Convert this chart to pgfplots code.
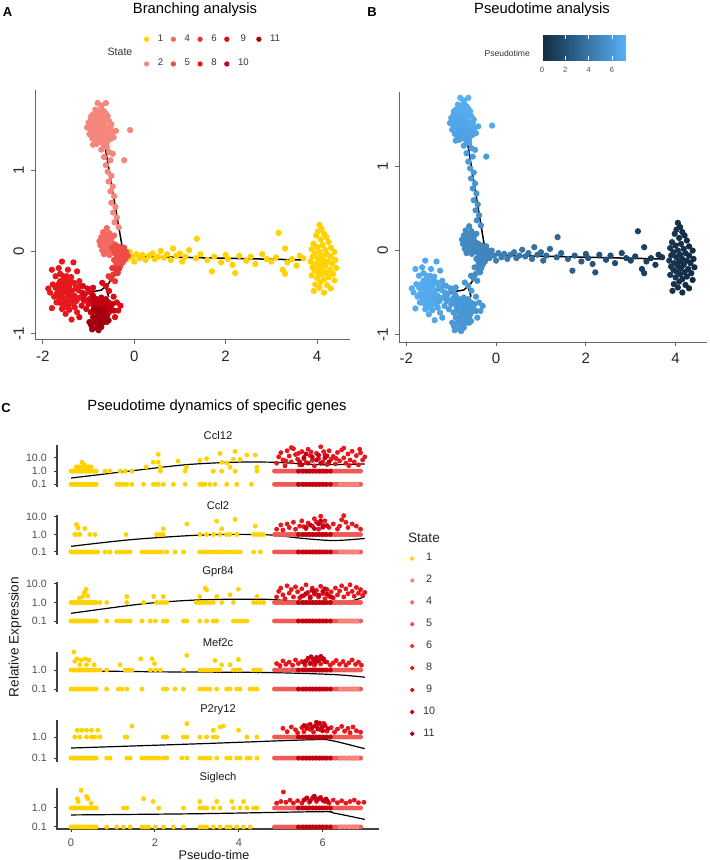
\documentclass[border=0pt]{standalone}
\usepackage{pgfplots}
\usepackage{pgfplotstable}
\pgfplotsset{compat=1.18}
\usepackage{fontspec}
\setmainfont{Liberation Sans}

\definecolor{s1}{HTML}{FFD200}
\definecolor{s2}{HTML}{F6867C}
\definecolor{s4}{HTML}{F26A62}
\definecolor{s5}{HTML}{EE4C46}
\definecolor{s6}{HTML}{EA3530}
\definecolor{s8}{HTML}{E6181D}
\definecolor{s9}{HTML}{D80C16}
\definecolor{s10}{HTML}{C20012}
\definecolor{s11}{HTML}{A2000E}
\definecolor{rowred}{HTML}{F05A55}
\definecolor{axgray}{HTML}{4D4D4D}

\pgfplotsset{
  /pgf/number format/assume math mode=true,
  cell/.style={only marks, mark=*, mark size=1.35pt},
  pdot/.style={only marks, mark=*, mark size=1pt},
  traj/.style={black, line width=0.75pt, mark=none},
  axl/.style={black!75, line width=0.55pt, mark=none},
  tsne/.style={scale only axis, height=125pt,
    xmin=-2.17, xmax=4.72,
    axis x line*=bottom, axis y line*=left,
    axis line style={-, black!60, line width=0.5pt},
    tick align=outside, major tick length=2pt,
    tick style={black!60, line width=0.5pt},
    xtick={-2,0,2,4}, ytick={-1,0,1},
    tick label style={font=\fontsize{7.5}{8}\selectfont, text=black!85},
    yticklabel style={rotate=90, anchor=south},
  },
  facet/.style={scale only axis, width=161pt,
    xmin=-0.334, xmax=7.34, clip=false,
    axis x line*=bottom, axis y line*=left,
    axis line style={-, black!80, line width=0.5pt},
    tick align=outside, major tick length=1.6pt,
    tick style={black!80, line width=0.5pt},
    tick label style={font=\fontsize{5.3}{6}\selectfont, text=axgray},
    title style={font=\fontsize{5.6}{6}\selectfont, text=black!90, yshift=-7pt},
  },
  nox/.style={x axis line style={draw=none}, xtick=\empty},
  ydot/.style={pdot, s1},
  rdot/.style={pdot},
  lgimg/.style={legend image code/.code={\draw[mark repeat=2,mark phase=2,##1] plot coordinates {(0pt,0pt) (2pt,0pt) (4pt,0pt)};}},
}

% cells: x y pseudotime
\pgfplotstableread{
x y t
4.05 0.33 0.3
4.10 0.28 0.2
4.02 0.25 0.4
4.15 0.22 0.1
3.98 0.20 0.5
4.20 0.18 0.2
4.08 0.15 0.3
4.25 0.12 0.1
3.92 0.10 0.6
4.12 0.08 0.2
4.00 0.06 0.4
4.30 0.05 0.1
3.88 0.03 0.6
4.18 0.02 0.3
4.05 0.00 0.3
4.38 0.00 0.1
3.95 -0.02 0.5
4.22 -0.03 0.2
4.10 -0.05 0.3
3.90 -0.06 0.6
4.30 -0.06 0.1
4.02 -0.08 0.4
4.15 -0.10 0.2
4.40 -0.10 0.0
3.86 -0.12 0.7
4.25 -0.12 0.1
4.08 -0.13 0.3
3.97 -0.15 0.5
4.33 -0.15 0.1
4.18 -0.17 0.2
4.05 -0.18 0.3
3.90 -0.19 0.6
4.42 -0.20 0.0
4.12 -0.21 0.2
4.28 -0.22 0.1
3.95 -0.23 0.5
4.02 -0.25 0.4
4.20 -0.26 0.2
4.35 -0.27 0.1
4.10 -0.28 0.3
3.88 -0.29 0.6
4.25 -0.31 0.1
4.00 -0.32 0.4
4.15 -0.34 0.2
4.38 -0.35 0.0
4.08 -0.37 0.3
3.96 -0.40 0.5
4.22 -0.41 0.2
4.05 -0.44 0.3
4.30 -0.45 0.1
3.93 -0.48 0.5
4.15 -0.50 0.2
-0.22 -0.02 4.83
-0.15 -0.09 4.76
-0.10 0.00 4.70
-0.05 -0.06 4.65
0.00 -0.12 4.60
0.05 -0.03 4.54
0.12 -0.08 4.46
0.18 -0.04 4.40
0.25 -0.10 4.33
0.32 -0.05 4.25
0.40 -0.02 4.16
0.45 -0.09 4.11
0.52 -0.06 4.03
0.58 0.01 3.97
0.65 -0.07 3.89
0.72 -0.03 3.82
0.80 -0.10 3.73
0.85 0.04 3.68
0.92 -0.05 3.60
1.00 -0.02 3.52
1.05 -0.12 3.46
1.12 -0.06 3.39
1.20 0.02 3.30
1.37 0.16 3.12
1.35 -0.08 3.14
1.45 -0.03 3.03
1.60 -0.10 2.87
1.70 -0.24 2.76
1.75 -0.06 2.71
1.90 -0.13 2.54
2.00 -0.04 2.44
2.05 -0.09 2.38
2.15 -0.16 2.27
2.21 -0.26 2.20
2.30 -0.05 2.11
2.45 -0.11 1.95
2.55 -0.06 1.84
2.65 -0.15 1.73
2.80 -0.03 1.57
2.90 -0.09 1.46
3.00 -0.12 1.36
3.10 -0.07 1.25
3.16 0.23 1.19
3.25 -0.22 1.09
3.30 0.04 1.03
3.30 -0.27 1.03
3.35 -0.13 0.98
3.45 -0.09 0.87
3.55 -0.17 0.76
3.62 -0.05 0.69
3.70 -0.08 0.60
}\stOne

\pgfplotstableread{
x y t
-0.80 1.82 7.1
-0.62 1.82 7.2
-0.72 1.76 7.0
-0.85 1.74 6.9
-0.66 1.72 7.0
-0.78 1.70 6.9
-0.90 1.68 6.8
-0.70 1.67 6.9
-0.58 1.66 6.9
-0.82 1.64 6.8
-0.95 1.62 6.7
-0.74 1.62 6.8
-0.64 1.61 6.8
-0.88 1.59 6.7
-1.00 1.58 6.6
-0.78 1.58 6.7
-0.68 1.57 6.7
-0.55 1.60 6.8
-0.92 1.55 6.6
-0.84 1.54 6.6
-0.72 1.53 6.6
-0.60 1.53 6.7
-1.03 1.52 6.5
-0.96 1.50 6.5
-0.80 1.50 6.5
-0.66 1.49 6.6
-0.52 1.52 6.7
-0.88 1.47 6.5
-0.75 1.46 6.5
-0.62 1.45 6.5
-0.98 1.44 6.4
-0.84 1.42 6.4
-0.70 1.42 6.4
-0.56 1.43 6.5
-0.48 1.46 6.6
-0.92 1.39 6.4
-0.78 1.38 6.3
-0.64 1.38 6.4
-0.52 1.38 6.4
-0.86 1.35 6.3
-0.72 1.34 6.3
-0.60 1.33 6.3
-0.90 1.31 6.3
-0.45 1.40 6.4
-0.40 1.48 6.6
-0.09 1.49 6.8
-0.76 1.61 6.8
-0.86 1.60 6.7
-0.94 1.66 6.8
-0.74 1.70 6.9
-0.68 1.64 6.8
-0.80 1.56 6.6
-0.90 1.50 6.5
-0.70 1.50 6.5
-0.58 1.48 6.6
-0.82 1.46 6.5
-0.66 1.43 6.4
-0.94 1.46 6.5
-0.76 1.41 6.4
-0.58 1.40 6.4
-0.82 1.32 6.3
-0.66 1.30 6.3
-0.72 1.79 7.0
-0.86 1.69 6.8
-0.62 1.69 6.9
-0.50 1.56 6.7
-0.72 1.25 6.2
-0.55 1.22 6.1
-0.66 1.16 6.1
-0.52 1.12 6.0
-0.62 1.06 6.0
-0.58 0.98 5.9
-0.50 0.93 5.8
-0.56 0.86 5.8
-0.47 0.80 5.7
-0.52 0.74 5.6
-0.44 0.68 5.6
-0.50 0.60 5.5
-0.41 0.55 5.4
-0.46 0.48 5.4
-0.38 0.42 5.3
-0.43 0.36 5.2
-0.34 0.30 5.2
-0.47 1.20 6.1
-0.60 1.28 6.2
-0.22 1.12 6.0
}\stTwo

\pgfplotstableread{
x y t
-0.60 0.29 5.1
-0.68 0.24 5.1
-0.55 0.23 5.0
-0.72 0.18 5.2
-0.62 0.17 5.1
-0.50 0.16 5.0
-0.66 0.12 5.1
-0.56 0.11 5.0
-0.74 0.08 5.2
-0.46 0.10 5.0
-0.62 0.06 5.1
-0.52 0.05 5.0
-0.70 0.02 5.1
-0.58 0.00 5.0
-0.48 0.01 4.9
-0.66 -0.03 5.1
-0.54 -0.04 5.0
-0.76 0.13 5.2
-0.58 0.20 5.1
-0.44 0.20 5.0
-0.64 0.20 5.1
-0.70 0.08 5.1
-0.60 0.12 5.0
-0.54 0.17 5.0
-0.64 0.02 5.1
}\stFour

\pgfplotstableread{
x y t
-0.40 0.08 4.9
-0.32 0.06 4.9
-0.22 0.05 4.8
-0.45 0.03 4.9
-0.36 0.02 4.9
-0.28 0.01 4.8
-0.18 0.00 4.8
-0.42 -0.02 4.9
-0.33 -0.03 4.9
-0.24 -0.04 4.8
-0.14 -0.05 4.8
-0.38 -0.07 4.9
-0.29 -0.08 4.9
-0.20 -0.09 4.8
-0.44 -0.10 5.0
-0.34 -0.12 4.9
-0.25 -0.13 4.9
-0.39 -0.15 5.0
-0.30 -0.17 5.0
-0.35 -0.19 5.0
-0.27 -0.04 4.8
-0.48 0.05 4.9
-0.37 0.04 4.9
-0.31 -0.01 4.9
-0.40 -0.11 4.9
-0.26 -0.10 4.8
-0.32 -0.14 4.9
-0.22 -0.02 4.8
}\stFive

\pgfplotstableread{
x y t
-0.40 -0.22 5.1
-0.36 -0.26 5.2
-0.46 -0.28 5.2
-0.50 -0.33 5.3
-0.42 -0.36 5.3
-0.56 -0.30 5.3
-0.33 -0.21 5.1
-0.48 -0.20 5.1
}\stSix

\pgfplotstableread{
x y t
-1.58 -0.12 6.6
-1.33 -0.13 6.5
-1.80 -0.22 6.9
-1.65 -0.20 6.8
-1.45 -0.22 6.7
-1.25 -0.24 6.5
-1.72 -0.30 6.8
-1.55 -0.30 6.7
-1.38 -0.31 6.6
-1.62 -0.36 6.8
-1.48 -0.36 6.7
-1.32 -0.38 6.6
-1.20 -0.36 6.5
-1.78 -0.40 6.9
-1.56 -0.42 6.8
-1.42 -0.42 6.7
-1.88 -0.45 7.0
-1.68 -0.46 6.9
-1.50 -0.47 6.8
-1.36 -0.48 6.7
-1.22 -0.47 6.6
-1.60 -0.51 6.8
-1.45 -0.53 6.7
-1.30 -0.54 6.6
-1.75 -0.55 6.9
-1.55 -0.57 6.8
-1.40 -0.59 6.7
-1.18 -0.56 6.5
-1.65 -0.62 6.8
-1.48 -0.63 6.7
-1.33 -0.64 6.6
-1.80 -0.69 6.9
-1.58 -0.70 6.8
-1.42 -0.71 6.7
-1.50 -0.76 6.7
-1.37 -0.83 6.6
-1.25 -0.74 6.5
-1.10 -0.60 6.4
-1.52 -0.40 6.8
-1.70 -0.52 6.9
-1.28 -0.43 6.6
-1.62 -0.27 6.7
-1.72 -0.44 6.9
-1.60 -0.44 6.8
-1.46 -0.46 6.7
-1.54 -0.50 6.8
-1.40 -0.52 6.7
-1.64 -0.56 6.8
-1.50 -0.60 6.7
-1.36 -0.58 6.6
-1.58 -0.64 6.8
-1.70 -0.62 6.8
-1.44 -0.66 6.7
-1.26 -0.60 6.5
-1.66 -0.40 6.8
-1.48 -0.30 6.7
-1.40 -0.36 6.6
-1.56 -0.36 6.7
-1.84 -0.50 6.9
-1.30 -0.68 6.6
-1.52 -0.68 6.7
-1.20 -0.42 6.5
}\stEight

\pgfplotstableread{
x y t
-1.12 -0.42 6.2
-1.02 -0.45 6.1
-0.95 -0.50 6.0
-1.08 -0.52 6.1
-0.98 -0.58 6.0
-1.15 -0.66 6.2
-1.05 -0.70 6.1
-0.90 -0.44 6.0
-0.70 -0.38 5.9
-0.62 -0.42 5.9
-0.55 -0.48 5.8
-0.45 -0.55 5.8
-0.38 -0.62 5.8
-0.35 -0.72 5.9
-0.42 -0.80 5.9
-0.30 -0.66 5.8
-1.20 -0.80 6.3
-0.60 -0.86 6.0
-1.14 -0.50 6.2
-1.00 -0.64 6.0
-0.92 -0.52 6.0
-1.10 -0.58 6.1
}\stNine

\pgfplotstableread{
x y t
-0.92 -0.60 5.9
-0.82 -0.58 5.8
-0.72 -0.56 5.8
-0.62 -0.58 5.7
-0.88 -0.66 5.9
-0.78 -0.66 5.8
-0.68 -0.64 5.7
-0.58 -0.66 5.7
-0.48 -0.64 5.7
-0.95 -0.74 5.9
-0.85 -0.73 5.8
-0.74 -0.72 5.8
-0.64 -0.74 5.7
-0.54 -0.73 5.7
-0.45 -0.72 5.6
-0.90 -0.54 5.9
-0.76 -0.60 5.8
-0.66 -0.60 5.7
-0.56 -0.62 5.7
-0.84 -0.62 5.8
-0.72 -0.68 5.8
-0.62 -0.69 5.7
-0.52 -0.68 5.7
-0.80 -0.76 5.8
-0.58 -0.76 5.7
}\stTen

\pgfplotstableread{
x y t
-0.90 -0.80 5.9
-0.80 -0.79 5.8
-0.70 -0.81 5.8
-0.60 -0.79 5.7
-0.86 -0.86 5.8
-0.76 -0.88 5.8
-0.66 -0.86 5.7
-0.82 -0.93 5.8
-0.92 -0.95 5.9
-0.72 -0.92 5.8
-0.98 -0.86 5.9
-0.78 -0.72 5.8
-0.68 -0.70 5.7
-0.88 -0.70 5.8
-0.84 -0.82 5.8
-0.74 -0.84 5.8
-0.64 -0.82 5.7
-0.94 -0.90 5.9
-0.78 -0.96 5.8
-0.68 -0.76 5.7
-0.56 -0.84 5.7
}\stEleven

% rows of cells at 0.1 (no expression) and 1.0 in panel C
\pgfplotstableread{
x z o
0.00 0.1 1
0.04 0.1 1
0.08 0.1 1
0.12 0.1 1
0.16 0.1 1
0.20 0.1 1
0.24 0.1 1
0.28 0.1 1
0.32 0.1 1
0.36 0.1 1
0.40 0.1 1
0.44 0.1 1
0.48 0.1 1
0.52 0.1 1
0.56 0.1 1
0.60 0.1 1
}\ydense

\pgfplotstableread{
x z o
4.85 0.1 1
4.90 0.1 1
4.95 0.1 1
5.00 0.1 1
5.05 0.1 1
5.10 0.1 1
5.15 0.1 1
5.20 0.1 1
5.25 0.1 1
5.30 0.1 1
5.35 0.1 1
5.40 0.1 1
5.45 0.1 1
5.50 0.1 1
5.55 0.1 1
5.60 0.1 1
5.65 0.1 1
5.70 0.1 1
5.75 0.1 1
5.80 0.1 1
5.85 0.1 1
5.90 0.1 1
5.95 0.1 1
6.00 0.1 1
6.05 0.1 1
6.10 0.1 1
6.15 0.1 1
6.20 0.1 1
6.25 0.1 1
6.30 0.1 1
6.35 0.1 1
6.40 0.1 1
6.45 0.1 1
6.50 0.1 1
6.55 0.1 1
6.60 0.1 1
6.65 0.1 1
6.70 0.1 1
6.75 0.1 1
6.80 0.1 1
6.85 0.1 1
6.90 0.1 1
}\redrow

\pgfplotstableread{
x z o
5.42 0.1 1
5.52 0.1 1
5.60 0.1 1
5.68 0.1 1
5.76 0.1 1
5.84 0.1 1
5.92 0.1 1
6.00 0.1 1
6.08 0.1 1
6.18 0.1 1
}\darkrow

\pgfplotstableread{
x z o
6.42 0.1 1
6.52 0.1 1
6.62 0.1 1
6.72 0.1 1
6.82 0.1 1
}\lightrow

\begin{document}
\begin{tikzpicture}
\path[use as bounding box] (0,0) rectangle (354.5pt,-430pt);

% ---------- A ----------
\node[font=\bfseries\fontsize{6.5}{7}\selectfont] at (3.8pt,-6pt) {A};
\node[font=\fontsize{7.4}{8}\selectfont] at (97.5pt,-5pt) {Branching analysis};
\node[font=\fontsize{5.3}{6}\selectfont, text=black!80] at (60pt,-26pt) {State};

\begin{axis}[hide axis, scale only axis, width=10pt, height=10pt,
  xmin=0, xmax=1, ymin=0, ymax=1,
  at={(69pt,-13pt)}, anchor=north west, lgimg,
  legend columns=5,
  legend style={at={(0,1)}, anchor=north west, draw=none, fill=none,
    font=\fontsize{4.8}{5.5}\selectfont, text=black!80, row sep=3.5pt,
    /tikz/every odd column/.style={column sep=2.5pt},
    /tikz/every even column/.style={column sep=2pt}}]
\addlegendimage{only marks, mark=*, mark size=1.1pt, s1}\addlegendentry{1}
\addlegendimage{only marks, mark=*, mark size=1.1pt, s4}\addlegendentry{4}
\addlegendimage{only marks, mark=*, mark size=1.1pt, s6}\addlegendentry{6}
\addlegendimage{only marks, mark=*, mark size=1.1pt, s9}\addlegendentry{9}
\addlegendimage{only marks, mark=*, mark size=1.1pt, s11}\addlegendentry{11}
\addlegendimage{only marks, mark=*, mark size=1.1pt, s2}\addlegendentry{2}
\addlegendimage{only marks, mark=*, mark size=1.1pt, s5}\addlegendentry{5}
\addlegendimage{only marks, mark=*, mark size=1.1pt, s8}\addlegendentry{8}
\addlegendimage{only marks, mark=*, mark size=1.1pt, s10}\addlegendentry{10}
\end{axis}

\begin{axis}[tsne, at={(17.5pt,-170pt)}, anchor=south west, width=157.5pt,
  ymin=-1.08, ymax=1.98]
\addplot[cell, s1] table[x=x,y=y]{\stOne};
\addplot[cell, s2] table[x=x,y=y]{\stTwo};
\addplot[cell, s4] table[x=x,y=y]{\stFour};
\addplot[cell, s5] table[x=x,y=y]{\stFive};
\addplot[cell, s6] table[x=x,y=y]{\stSix};
\addplot[cell, s8] table[x=x,y=y]{\stEight};
\addplot[cell, s9] table[x=x,y=y]{\stNine};
\addplot[cell, s10] table[x=x,y=y]{\stTen};
\addplot[cell, s11] table[x=x,y=y]{\stEleven};
\addplot[traj] coordinates {(3.70,-0.10) (0.80,-0.065) (-0.18,-0.055) (-0.26,0.05) (-0.67,1.39)};
\addplot[traj] coordinates {(-0.18,-0.055) (-0.31,-0.16) (-0.56,-0.39) (-0.72,-0.47) (-1.05,-0.50) (-1.37,-0.46)};
\addplot[traj] coordinates {(-0.62,-0.44) (-0.56,-0.55)};
\end{axis}

% ---------- B ----------
\node[font=\bfseries\fontsize{6.5}{7}\selectfont] at (186pt,-6pt) {B};
\node[font=\fontsize{7.4}{8}\selectfont] at (271pt,-5pt) {Pseudotime analysis};
\node[font=\fontsize{4.3}{5}\selectfont, text=black!80, anchor=east] at (268.5pt,-26.5pt) {Pseudotime};

\begin{axis}[tsne, at={(199.5pt,-171pt)}, anchor=south west, width=154pt,
  xmin=-2.165, xmax=4.70, ymin=-1.09, ymax=1.89,
  colormap={ptime}{rgb255=(19,43,67) rgb255=(86,177,247)},
  point meta min=0, point meta max=7.2,
  colorbar horizontal,
  colorbar style={at={(parent axis.north west)}, anchor=south west,
    xshift=71.5pt, yshift=24.5pt, width=42pt, height=12.5pt,
    xtick={0,2,4,6}, axis line style={draw=none},
    tick align=inside, major tick length=2pt,
    xtick style={white, line width=0.4pt},
    xticklabel style={font=\fontsize{3.8}{4}\selectfont, text=axgray, rotate=0, anchor=north},
  }]
\addplot[cell, scatter, point meta=explicit, scatter/use mapped color={draw=mapped color, fill=mapped color}] table[x=x,y=y,meta=t]{\stOne};
\addplot[cell, scatter, point meta=explicit, scatter/use mapped color={draw=mapped color, fill=mapped color}] table[x=x,y=y,meta=t]{\stTwo};
\addplot[cell, scatter, point meta=explicit, scatter/use mapped color={draw=mapped color, fill=mapped color}] table[x=x,y=y,meta=t]{\stFour};
\addplot[cell, scatter, point meta=explicit, scatter/use mapped color={draw=mapped color, fill=mapped color}] table[x=x,y=y,meta=t]{\stFive};
\addplot[cell, scatter, point meta=explicit, scatter/use mapped color={draw=mapped color, fill=mapped color}] table[x=x,y=y,meta=t]{\stSix};
\addplot[cell, scatter, point meta=explicit, scatter/use mapped color={draw=mapped color, fill=mapped color}] table[x=x,y=y,meta=t]{\stEight};
\addplot[cell, scatter, point meta=explicit, scatter/use mapped color={draw=mapped color, fill=mapped color}] table[x=x,y=y,meta=t]{\stNine};
\addplot[cell, scatter, point meta=explicit, scatter/use mapped color={draw=mapped color, fill=mapped color}] table[x=x,y=y,meta=t]{\stTen};
\addplot[cell, scatter, point meta=explicit, scatter/use mapped color={draw=mapped color, fill=mapped color}] table[x=x,y=y,meta=t]{\stEleven};
\addplot[traj] coordinates {(3.70,-0.10) (0.80,-0.065) (-0.18,-0.055) (-0.26,0.05) (-0.67,1.39)};
\addplot[traj] coordinates {(-0.18,-0.055) (-0.31,-0.16) (-0.56,-0.39) (-0.72,-0.47) (-1.05,-0.50) (-1.37,-0.46)};
\addplot[traj] coordinates {(-0.62,-0.44) (-0.56,-0.55)};
\end{axis}

% ---------- C ----------
\node[font=\bfseries\fontsize{6.5}{7}\selectfont] at (3pt,-204pt) {C};
\node[font=\fontsize{7.4}{8}\selectfont] at (108.5pt,-203.5pt) {Pseudotime dynamics of specific genes};
\node[font=\fontsize{6.8}{7}\selectfont, rotate=90, text=black!90] at (7.5pt,-318.5pt) {Relative Expression};
\node[font=\fontsize{6.3}{7}\selectfont, text=black!90] at (107pt,-427.3pt) {Pseudo-time};

% Ccl12
\begin{axis}[facet, nox, ymode=log, yminorticks=false, at={(28.5pt,-243.5pt)}, anchor=south west, height=21pt,
  ymin=0.063, ymax=95, ytick={0.1,1,10}, yticklabels={0.1,1.0,10.0}, title={Ccl12}]
\addplot[axl] coordinates {(-0.334,0.063) (-0.334,95)};
\addplot[ydot] table[x=x,y=z]{\ydense};
\addplot[ydot] table[x=x,y=o]{\ydense};
\addplot[ydot] coordinates {(1.09,0.1)(1.15,0.1)(1.21,0.1)(1.27,0.1)(1.33,0.1)(1.45,0.1)(1.73,0.1)(1.96,0.1)(2.02,0.1)(2.08,0.1)(2.20,0.1)(2.44,0.1)(2.72,0.1)(3.07,0.1)(3.13,0.1)(3.19,0.1)(3.31,0.1)(3.43,0.1)(3.71,0.1)(3.95,0.1)(4.30,0.1)
 (0.81,1)(0.93,1)(1.17,1)(1.29,1)(1.45,1)(2.13,1)(2.72,1)(3.39,1)(3.59,1)(3.91,1)(4.43,1)
 (0.12,2.1)(0.18,2.1)(0.24,2.1)(0.30,2.1)(0.36,2.1)(0.42,2.1)(0.48,2.1)(0.26,4.7)(0.32,3)(1.96,4.7)(2.08,4.7)(2.08,18.6)(1.79,2)(2.55,5.7)(2.75,2)(3.07,6.5)(3.23,8.8)(3.55,22)(3.59,4.7)(3.71,4.2)(3.91,31)(3.87,7.8)(4.03,7.8)(4.19,16.5)(4.39,16.5)(4.43,2)(3.79,2)(2.13,2)};
\addplot[rdot, rowred] table[x=x,y=z]{\redrow};
\addplot[rdot, rowred] table[x=x,y=o]{\redrow};
\addplot[rdot, s10] table[x=x,y=z]{\darkrow};
\addplot[rdot, s10] table[x=x,y=o]{\darkrow};
\addplot[rdot, s2] table[x=x,y=z]{\lightrow};
\addplot[rdot, s8] coordinates {(4.90,4)(4.95,12)(5.00,25)(5.05,7)(5.10,2.5)(5.15,35)(5.20,14)(5.25,5)(5.30,50)(5.35,18)(5.40,8)(5.45,3)(5.50,30)(5.55,11)(5.60,4.5)(5.65,45)(5.70,15)(5.75,6.5)(5.80,2.5)(5.85,22)(5.90,9)(5.95,70)(6.00,5)(6.05,17)(6.10,3.2)(6.15,35)(6.20,8)(6.25,13)(6.30,3.5)(6.35,26)(6.40,6)(6.45,40)(6.50,10)(6.55,4)(6.60,20)(6.65,7)(6.70,32)(6.75,5)(6.80,15)(6.85,3)(6.90,24)(6.95,7)(7.00,12)(5.12,6)(5.42,22)(5.72,28)(6.02,30)(6.32,9)(6.62,2.6)(6.88,45)(5.25,60)(6.50,55)};
\addplot[rdot, s10] coordinates {(5.45,5)(5.55,9)(5.65,4)(5.75,12)(5.85,7)(5.95,4)(6.05,10)(6.15,5)(5.60,20)(5.90,16)(6.10,14)(5.50,3)};
\addplot[black, line width=0.6pt, smooth] coordinates {(0,0.3)(1.49,1.1)(2.76,3.1)(3.87,4.7)(4.82,4.7)(5.93,3.1)(7.0,3.5)};
\end{axis}

% Ccl2
\begin{axis}[facet, nox, ymode=log, yminorticks=false, at={(28.5pt,-277.5pt)}, anchor=south west, height=20pt,
  ymin=0.067, ymax=13, ytick={0.1,1,10}, yticklabels={0.1,1.0,10.0}, title={Ccl2}]
\addplot[axl] coordinates {(-0.334,0.067) (-0.334,13)};
\addplot[ydot] table[x=x,y=z]{\ydense};
\addplot[ydot] coordinates {(0.64,0.1)(0.81,0.1)(0.93,0.1)(1.09,0.1)(1.17,0.1)(1.25,0.1)(1.33,0.1)(1.41,0.1)(1.69,0.1)(1.77,0.1)(1.85,0.1)(1.93,0.1)(2.01,0.1)(2.09,0.1)(2.17,0.1)(2.28,0.1)(2.48,0.1)(2.68,0.1)(3.07,0.1)(3.15,0.1)(3.23,0.1)(3.31,0.1)(3.39,0.1)(3.47,0.1)(3.55,0.1)(3.63,0.1)(3.71,0.1)(3.79,0.1)(3.87,0.1)(3.95,0.1)(4.03,0.1)(4.35,0.1)(4.51,0.1)
 (0.09,1)(0.13,1)(0.21,1)(0.45,1)(0.57,1)(1.31,1)(2.04,1)(2.12,1)(2.20,1)(3.07,1)(3.23,1)(3.39,1)(3.55,1)(3.71,1)(3.79,1)(3.95,1)(4.35,1)(4.43,1)(4.51,1)(4.59,1)
 (0.13,3.7)(0.17,2.4)(0.33,2.2)(2.20,2.1)(2.76,4)(3.47,5.8)(3.59,2.1)(3.91,7.2)(4.39,3)};
\addplot[rdot, rowred] table[x=x,y=z]{\redrow};
\addplot[rdot, rowred] table[x=x,y=o]{\redrow};
\addplot[rdot, s10] table[x=x,y=z]{\darkrow};
\addplot[rdot, s10] table[x=x,y=o]{\darkrow};
\addplot[rdot, s2] table[x=x,y=z]{\lightrow};
\addplot[rdot, s8] coordinates {(4.90,2)(5.00,3.5)(5.05,1.8)(5.15,4)(5.20,2.5)(5.30,5)(5.35,2)(5.45,3)(5.50,6)(5.60,2.2)(5.65,4.5)(5.75,3)(5.80,8)(5.85,5)(5.90,2)(5.95,11)(6.00,3.5)(6.05,6)(6.15,2.5)(6.25,4)(6.35,2)(6.40,3)(6.50,12)(6.55,5)(6.60,2.5)(6.70,4)(6.80,3)(6.90,2)(6.45,7)(5.55,2.8)};
\addplot[rdot, s10] coordinates {(5.60,2.5)(5.70,3.5)(5.80,2.2)(5.90,4)(6.00,2.6)(6.10,3.2)(5.95,6)};
\addplot[black, line width=0.6pt, smooth] coordinates {(0,0.21)(1.49,0.52)(3.24,0.96)(4.67,0.96)(5.45,0.62)(6.25,0.45)(7.0,0.59)};
\end{axis}

% Gpr84
\begin{axis}[facet, nox, ymode=log, yminorticks=false, at={(28.5pt,-312pt)}, anchor=south west, height=21pt,
  ymin=0.069, ymax=12.8, ytick={0.1,1,10}, yticklabels={0.1,1.0,10.0}, title={Gpr84}]
\addplot[axl] coordinates {(-0.334,0.069) (-0.334,12.8)};
\addplot[ydot] table[x=x,y=z]{\ydense};
\addplot[ydot] table[x=x,y=o]{\ydense};
\addplot[ydot] coordinates {(0.85,0.1)(1.09,0.1)(1.17,0.1)(1.25,0.1)(1.33,0.1)(1.41,0.1)(1.69,0.1)(1.89,0.1)(2.01,0.1)(2.20,0.1)(2.28,0.1)(2.68,0.1)(2.76,0.1)(3.07,0.1)(3.23,0.1)(3.39,0.1)(3.47,0.1)(3.87,0.1)(3.95,0.1)(4.03,0.1)(4.11,0.1)(4.19,0.1)
 (0.69,1)(0.85,1)(1.33,1)(1.73,1)(2.04,1)(2.12,1)(2.20,1)(2.28,1)(2.99,1)(3.07,1)(3.15,1)(3.23,1)(3.31,1)(3.39,1)(3.59,1)(3.87,1)(4.35,1)(4.43,1)(4.51,1)(4.59,1)
 (0.20,1.7)(0.32,3.5)(0.36,5.2)(0.40,2.3)(0.28,2.1)(1.33,2.1)(1.97,2.1)(2.20,2.1)(3.20,6)(3.23,4.8)(3.47,2.1)(3.79,2.6)(3.99,5.2)(3.07,2.1)(4.43,2.1)};
\addplot[rdot, rowred] table[x=x,y=z]{\redrow};
\addplot[rdot, rowred] table[x=x,y=o]{\redrow};
\addplot[rdot, s10] table[x=x,y=z]{\darkrow};
\addplot[rdot, s10] table[x=x,y=o]{\darkrow};
\addplot[rdot, s2] table[x=x,y=z]{\lightrow};
\addplot[rdot, s8] coordinates {(4.90,2)(4.95,4)(5.00,6)(5.05,2.6)(5.10,1.6)(5.15,8)(5.20,3.2)(5.25,5)(5.30,2)(5.35,7)(5.40,3.8)(5.45,1.8)(5.50,5.5)(5.55,2.4)(5.60,9)(5.65,3.5)(5.70,1.7)(5.75,6)(5.80,2.8)(5.85,4.5)(5.90,2)(5.95,7.5)(6.00,3)(6.05,1.6)(6.10,5)(6.15,2.2)(6.20,3.8)(6.25,1.8)(6.30,6)(6.35,2.6)(6.40,4.2)(6.45,8)(6.50,2)(6.55,5.5)(6.60,3)(6.65,9)(6.70,4)(6.75,2.2)(6.80,6.5)(6.85,3.2)(6.90,5)(6.95,2.4)(7.00,3.5)};
\addplot[rdot, s10] coordinates {(5.50,2.2)(5.60,3)(5.70,2)(5.80,3.5)(5.90,2.5)(6.00,4)(6.10,2.8)(6.20,2)(5.75,4.5)(6.05,5.5)};
\addplot[black, line width=0.6pt, smooth] coordinates {(0,0.26)(1.72,0.85)(3.07,1.39)(4.59,1.5)(5.46,1.13)(6.49,1.0)(7.0,2.1)};
\end{axis}

% Mef2c
\begin{axis}[facet, nox, ymode=log, yminorticks=false, at={(28.5pt,-346pt)}, anchor=south west, height=20pt,
  ymin=0.07, ymax=8.9, ytick={0.1,1}, yticklabels={0.1,1.0}, title={Mef2c}]
\addplot[axl] coordinates {(-0.334,0.07) (-0.334,8.9)};
\addplot[ydot] table[x=x,y=z]{\ydense};
\addplot[ydot] table[x=x,y=o]{\ydense};
\addplot[ydot] coordinates {(0.85,0.1)(1.13,0.1)(1.21,0.1)(1.33,0.1)(1.69,0.1)(2.20,0.1)(2.28,0.1)(2.48,0.1)(2.68,0.1)(3.07,0.1)(3.15,0.1)(3.23,0.1)(3.31,0.1)(3.47,0.1)(3.71,0.1)(3.79,0.1)(3.95,0.1)(4.03,0.1)(4.27,0.1)(4.35,0.1)(4.43,0.1)
 (0.69,1)(0.85,1)(1.29,1)(1.37,1)(1.45,1)(1.89,1)(2.01,1)(2.13,1)(2.68,1)(3.07,1)(3.15,1)(3.23,1)(3.31,1)(3.39,1)(3.47,1)(3.55,1)(3.87,1)(3.95,1)(4.03,1)(4.35,1)(4.43,1)(4.51,1)
 (0.07,8.9)(0.09,2.9)(0.14,3.9)(0.24,3.3)(0.34,3.9)(0.43,3.3)(0.21,1.9)(0.37,1.9)(0.55,1.9)(1.17,1.9)(1.66,3.9)(1.93,3.9)(1.99,2.2)(2.76,5.9)(3.43,3.2)(3.79,1.9)(3.99,3.6)(3.59,1.9)};
\addplot[rdot, rowred] table[x=x,y=z]{\redrow};
\addplot[rdot, rowred] table[x=x,y=o]{\redrow};
\addplot[rdot, s10] table[x=x,y=z]{\darkrow};
\addplot[rdot, s10] table[x=x,y=o]{\darkrow};
\addplot[rdot, s2] table[x=x,y=z]{\lightrow};
\addplot[rdot, s8] coordinates {(4.90,2.2)(4.98,1.7)(5.05,3)(5.12,2)(5.20,2.6)(5.28,1.8)(5.35,3.4)(5.42,2.2)(5.50,2.8)(5.58,1.8)(5.65,3.8)(5.72,2.4)(5.80,1.8)(5.88,3)(5.95,2.1)(6.02,4)(6.10,2.6)(6.18,1.8)(6.25,2.4)(6.32,3.2)(6.40,2)(6.48,2.8)(6.55,1.8)(6.62,2.4)(6.70,3.4)(6.78,2)(6.85,2.6)(6.92,1.8)};
\addplot[rdot, s10] coordinates {(5.60,3)(5.65,4.2)(5.72,5)(5.78,3.6)(5.85,4.6)(5.90,3.2)(5.95,5.2)(6.00,3.8)(5.55,2.5)(6.05,2.8)(5.82,2.4)(5.70,2.2)};
\addplot[black, line width=0.6pt, smooth] coordinates {(0,0.92)(2.28,0.8)(4.67,0.74)(6.25,0.58)(7.0,0.42)};
\end{axis}

% P2ry12
\begin{axis}[facet, nox, ymode=log, yminorticks=false, at={(28.5pt,-381pt)}, anchor=south west, height=21pt,
  ymin=0.065, ymax=6.45, ytick={0.1,1}, yticklabels={0.1,1.0}, title={P2ry12}]
\addplot[axl] coordinates {(-0.334,0.065) (-0.334,6.45)};
\addplot[ydot] table[x=x,y=z]{\ydense};
\addplot[ydot] coordinates {(0.85,0.1)(0.93,0.1)(1.33,0.1)(1.41,0.1)(1.69,0.1)(1.77,0.1)(1.85,0.1)(1.93,0.1)(2.01,0.1)(2.09,0.1)(2.20,0.1)(2.28,0.1)(2.64,0.1)(2.76,0.1)(3.07,0.1)(3.15,0.1)(3.23,0.1)(3.31,0.1)(3.47,0.1)(3.71,0.1)(3.79,0.1)(3.95,0.1)(4.03,0.1)(4.19,0.1)(4.27,0.1)(4.43,0.1)
 (0.09,1)(0.21,1)(0.37,1)(0.49,1)(0.57,1)(0.69,1)(1.29,1)(1.33,1)(2.20,1)(2.28,1)(2.68,1)(2.76,1)(3.07,1)(3.23,1)(3.39,1)(3.47,1)(4.19,1)(4.43,1)
 (0.15,2.1)(0.26,2.1)(0.37,2.1)(0.49,2.1)(0.64,2.1)(1.45,3.3)(2.76,4.3)(3.39,2.1)(3.55,3)(3.63,3.3)(3.99,2.1)};
\addplot[rdot, rowred] table[x=x,y=z]{\redrow};
\addplot[rdot, rowred] table[x=x,y=o]{\redrow};
\addplot[rdot, s10] table[x=x,y=z]{\darkrow};
\addplot[rdot, s10] table[x=x,y=o]{\darkrow};
\addplot[rdot, s2] table[x=x,y=z]{\lightrow};
\addplot[rdot, s8] coordinates {(5.05,2.6)(5.15,1.8)(5.25,3)(5.35,2.2)(5.40,1.6)(5.50,2.8)(5.55,1.8)(5.62,3.5)(5.70,2.3)(5.78,1.7)(5.88,3.8)(5.95,2.2)(6.02,4.5)(6.10,1.9)(6.20,2.8)(6.28,1.7)(6.35,2.4)(6.45,3.2)(6.52,1.9)(6.60,2.6)(6.65,1.6)(6.72,3)(6.80,2)(6.90,1.7)};
\addplot[rdot, s10] coordinates {(5.55,3.5)(5.62,2.6)(5.70,4)(5.75,2.8)(5.82,3.4)(5.88,2.4)(5.92,4.6)(5.98,3)(6.05,3.6)(6.12,2.5)(5.85,5)(6.00,2)};
\addplot[black, line width=0.6pt, smooth] coordinates {(0,0.30)(3.07,0.48)(5.77,0.75)(6.20,0.68)(6.50,0.5)(7.0,0.28)};
\end{axis}

% Siglech
\begin{axis}[facet, ymode=log, yminorticks=false, at={(28.5pt,-414.5pt)}, anchor=south west, height=20.5pt,
  ymin=0.078, ymax=11.3, ytick={0.1,1}, yticklabels={0.1,1.0}, title={Siglech},
  xtick={0,2,4,6},
  xticklabel style={font=\fontsize{5.5}{6}\selectfont, text=axgray}]
\addplot[axl] coordinates {(-0.334,11.3) (-0.334,0.078) (7.34,0.078)};
\addplot[ydot] table[x=x,y=z]{\ydense};
\addplot[ydot] table[x=x,y=o]{\ydense};
\addplot[ydot] coordinates {(0.85,0.1)(1.09,0.1)(1.25,0.1)(1.41,0.1)(1.69,0.1)(1.77,0.1)(1.85,0.1)(2.01,0.1)(2.20,0.1)(2.44,0.1)(2.68,0.1)(3.07,0.1)(3.15,0.1)(3.23,0.1)(3.39,0.1)(3.55,0.1)(3.71,0.1)(3.79,0.1)(3.95,0.1)(4.11,0.1)(4.27,0.1)
 (1.25,1)(1.33,1)(2.09,1)(2.68,1)(3.07,1)(3.15,1)(3.23,1)(3.39,1)(3.55,1)(3.87,1)(4.03,1)(4.19,1)(4.35,1)(4.43,1)
 (0.24,8.5)(0.15,3.1)(0.17,2.2)(0.37,4.1)(0.40,3.1)(0.48,1.8)(1.73,3.1)(1.96,2.2)(3.07,2.2)(3.47,2.2)(3.83,2.2)(4.11,2.2)};
\addplot[rdot, rowred] table[x=x,y=z]{\redrow};
\addplot[rdot, rowred] table[x=x,y=o]{\redrow};
\addplot[rdot, s10] table[x=x,y=z]{\darkrow};
\addplot[rdot, s10] table[x=x,y=o]{\darkrow};
\addplot[rdot, s2] table[x=x,y=z]{\lightrow};
\addplot[rdot, s8] coordinates {(4.90,1.8)(5.00,2.2)(5.06,7)(5.12,2)(5.22,2.6)(5.30,1.8)(5.40,2.4)(5.50,1.8)(5.58,2.8)(5.68,2)(5.75,3.2)(5.85,2.2)(5.95,3.6)(6.05,2.2)(6.15,1.8)(6.25,2.6)(6.35,1.9)(6.45,2.4)(6.55,1.8)(6.65,2.2)(6.75,2.6)(6.85,1.9)(6.98,2)};
\addplot[rdot, s10] coordinates {(5.55,2.6)(5.62,3.4)(5.70,2.4)(5.78,3.8)(5.85,2.8)(5.92,3.2)(6.00,2.5)(6.08,3)(5.80,4.2)(6.12,2.2)};
\addplot[black, line width=0.6pt, smooth] coordinates {(0,0.43)(3.07,0.50)(5.95,0.64)(6.25,0.55)(7.0,0.25)};
\end{axis}

% C legend
\node[font=\fontsize{6.8}{7}\selectfont, text=black!85, anchor=west] at (200.5pt,-269pt) {State};
\begin{axis}[hide axis, scale only axis, width=10pt, height=10pt,
  xmin=0, xmax=1, ymin=0, ymax=1,
  at={(202pt,-272.5pt)}, anchor=north west, lgimg,
  legend style={at={(0,1)}, anchor=north west, draw=none, fill=none,
    font=\fontsize{5.4}{6}\selectfont, text=black!80, row sep=1.7pt,
    /tikz/every odd column/.style={column sep=2.5pt}}]
\addlegendimage{only marks, mark=*, mark size=0.9pt, s1}\addlegendentry{1}
\addlegendimage{only marks, mark=*, mark size=0.9pt, s2}\addlegendentry{2}
\addlegendimage{only marks, mark=*, mark size=0.9pt, s4}\addlegendentry{4}
\addlegendimage{only marks, mark=*, mark size=0.9pt, s5}\addlegendentry{5}
\addlegendimage{only marks, mark=*, mark size=0.9pt, s6}\addlegendentry{6}
\addlegendimage{only marks, mark=*, mark size=0.9pt, s8}\addlegendentry{8}
\addlegendimage{only marks, mark=*, mark size=0.9pt, s9}\addlegendentry{9}
\addlegendimage{only marks, mark=*, mark size=0.9pt, s10}\addlegendentry{10}
\addlegendimage{only marks, mark=*, mark size=0.9pt, s11}\addlegendentry{11}
\end{axis}
\end{tikzpicture}
\end{document}
